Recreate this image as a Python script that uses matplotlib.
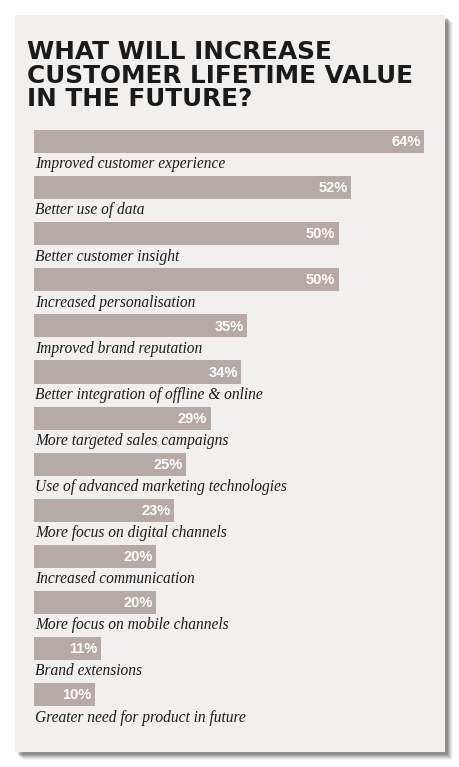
import matplotlib

matplotlib.use("Agg")

import matplotlib.pyplot as plt
from matplotlib.patches import Rectangle


TITLE = "WHAT WILL INCREASE\nCUSTOMER LIFETIME VALUE\nIN THE FUTURE?"

categories = [
    "Improved customer experience",
    "Better use of data",
    "Better customer insight",
    "Increased personalisation",
    "Improved brand reputation",
    "Better integration of offline & online",
    "More targeted sales campaigns",
    "Use of advanced marketing technologies",
    "More focus on digital channels",
    "Increased communication",
    "More focus on mobile channels",
    "Brand extensions",
    "Greater need for product in future",
]
values = [64, 52, 50, 50, 35, 34, 29, 25, 23, 20, 20, 11, 10]

W, H = 460, 767
PANEL = "#f2f0ef"
BAR = "#b6aaa7"


def px(x, y):
    """pixel (from top-left) -> figure fraction"""
    return x / W, 1 - y / H


def main() -> None:
    fig = plt.figure(figsize=(W / 100, H / 100), dpi=100)
    fig.patch.set_facecolor("white")

    # soft drop shadow + panel
    for k, a in enumerate([0.04, 0.06, 0.08, 0.10, 0.12, 0.14]):
        off = 8 - k
        x0, y1 = px(15 + off, 752 + off)
        fig.patches.append(
            Rectangle((x0, y1), 430 / W, 737 / H, transform=fig.transFigure,
                      facecolor="black", alpha=a, edgecolor="none", zorder=0)
        )
    x0, y1 = px(15, 752)
    fig.patches.append(
        Rectangle((x0, y1), 430 / W, 737 / H, transform=fig.transFigure,
                  facecolor=PANEL, edgecolor="none", zorder=1)
    )

    tx, ty = px(27, 40)
    fig.text(tx, ty, TITLE, ha="left", va="top", fontsize=17.8,
             fontweight="bold", family="DejaVu Sans", color="#1a1a1a",
             linespacing=0.98, zorder=5)

    # bars axes: bar i centred at 141.5 + 46.1*i px
    step = 46.1
    top_px = 141.5 - 0.5 * step
    bot_px = 141.5 + 12.5 * step
    left, right = 34, 424
    ax = fig.add_axes([left / W, 1 - bot_px / H, (right - left) / W,
                       (bot_px - top_px) / H])
    ax.set_facecolor("none")
    ax.set_zorder(3)
    ypos = list(range(len(values)))
    ax.barh(ypos, values, height=0.5, color=BAR, edgecolor="none")
    ax.set_xlim(0, max(values))
    ax.set_ylim(len(values) - 0.5, -0.5)
    ax.axis("off")

    for y, v, lab in zip(ypos, values, categories):
        ax.annotate(f"{v}%", xy=(v, y), xytext=(-2.5, -0.5), textcoords="offset points",
                    ha="right", va="center", fontsize=10.5, fontweight="bold",
                    color="white", family="Liberation Sans")
        ax.annotate(lab, xy=(0, y + 0.25), xytext=(1, -11), textcoords="offset points",
                    ha="left", va="baseline", fontsize=11.2, style="italic",
                    family="Liberation Serif", color="#1a1a1a", annotation_clip=False)

    fig.savefig("out.png", dpi=100)
    plt.close(fig)


if __name__ == "__main__":
    main()
